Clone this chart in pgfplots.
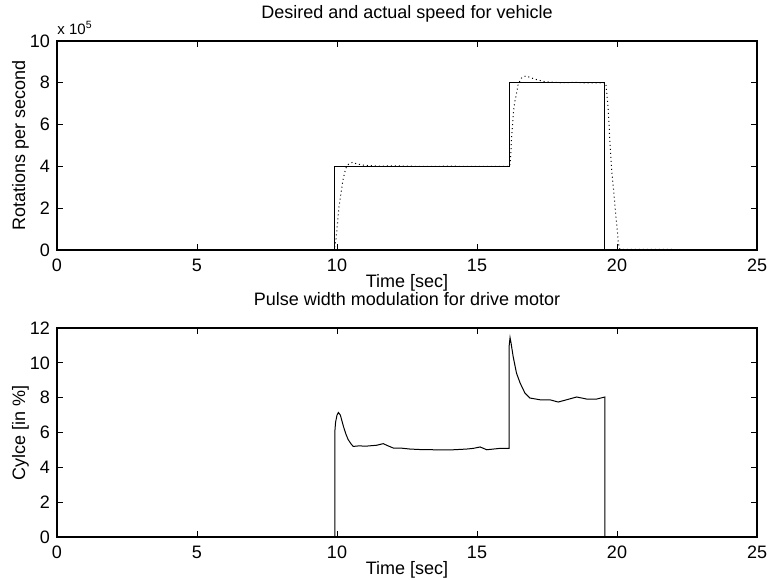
\documentclass[border=0pt]{standalone}
\usepackage{fontspec}
\setmainfont{Liberation Sans}
\usepackage{pgfplots}
\pgfplotsset{compat=1.18}
\begin{document}
\begin{tikzpicture}
\pgfplotsset{
  myaxis/.style={
    scale only axis, width=350pt, height=104.5pt,
    xmin=0, xmax=25, xtick={0,5,10,15,20,25},
    tick align=inside, major tick length=3pt,
    axis line style={line width=0.6pt},
    every tick/.style={black, line width=0.4pt},
    /pgf/number format/assume math mode=true,
    ticklabel style={font=\fontsize{9}{10}\selectfont},
    xticklabel style={yshift=-1pt},
    label style={font=\fontsize{9}{10}\selectfont},
    title style={font=\fontsize{9}{10}\selectfont, at={(axis description cs:0.5,1)}, anchor=base, yshift=5.5pt},
    xlabel style={at={(axis description cs:0.5,0)}, anchor=base, yshift=-18.8pt},
    ylabel style={at={(axis description cs:-0.0457,0.5)}, anchor=base},
    xlabel={Time [sec]},
  }
}
\path[use as bounding box] (-28.5pt,-164.5pt) rectangle (356pt,125pt);
\begin{axis}[myaxis, at={(0,0)}, anchor=south west,
  ymin=0, ymax=1000000, ytick={0,200000,400000,600000,800000,1000000},
  scaled y ticks=false,
  yticklabels={0,2,4,6,8,10},
  after end axis/.code={\node[anchor=base west, inner sep=0pt, font=\fontsize{7.5}{9}\selectfont] at ([yshift=3.3pt]rel axis cs:0,1) {x 10\textsuperscript{5}};},
  title={Desired and actual speed for vehicle},
  ylabel={Rotations per second}]
\addplot[black, line width=0.5pt] coordinates {
(0,0) (9.91,0) (9.91,400000) (16.16,400000) (16.16,800000) (19.57,800000) (19.57,0) (22,0)};
\addplot[black, line width=0.5pt, dash pattern=on 0.5pt off 1.5pt] coordinates {
(0,0) (9.9,0) (9.97,57000) (10.07,206000) (10.21,333000) (10.31,390000) (10.41,410000) (10.56,420000) (10.7,412000) (11,405000) (11.5,401000) (12,403000) (13,400000) (14,401000) (15,400000) (16.16,400000) (16.19,420000) (16.23,524000) (16.29,643000) (16.34,703000) (16.43,762000) (16.47,794000) (16.6,825000) (16.75,833000) (17.05,818000) (17.4,806000) (18,800000) (18.5,802000) (19,799000) (19.58,800000) (19.61,786000) (19.69,667000) (19.75,508000) (19.81,381000) (19.89,270000) (19.95,175000) (20.01,95000) (20.05,32000) (20.1,3500) (22,3500)};
\end{axis}
\begin{axis}[myaxis, at={(0,-143.5pt)}, anchor=south west,
  ymin=0, ymax=12, ytick={0,2,4,6,8,10,12},
  title={Pulse width modulation for drive motor},
  ylabel={Cylce [in \%]}]
\addplot[black, line width=0.5pt] coordinates {
(0,0) (9.92,0) (9.92,6.0) (9.95,6.6) (10.0,7.0) (10.05,7.15) (10.12,7.0) (10.23,6.35) (10.32,5.9) (10.4,5.59) (10.5,5.35) (10.58,5.2) (10.76,5.23) (11.06,5.22) (11.42,5.27) (11.65,5.36) (11.83,5.23) (12.01,5.11) (12.25,5.11) (12.61,5.05) (13.0,5.02) (13.44,5.01) (14.04,5.0) (14.63,5.05) (14.87,5.09) (15.11,5.17) (15.35,5.01) (15.82,5.09) (16.15,5.09) (16.15,11.0) (16.18,11.45) (16.22,11.1) (16.29,10.37) (16.41,9.41) (16.54,8.84) (16.71,8.27) (16.89,7.98) (17.25,7.88) (17.6,7.88) (17.9,7.75) (18.2,7.88) (18.56,8.04) (18.92,7.92) (19.27,7.92) (19.57,8.04) (19.57,0) (22,0)};
\end{axis}
\end{tikzpicture}
\end{document}
